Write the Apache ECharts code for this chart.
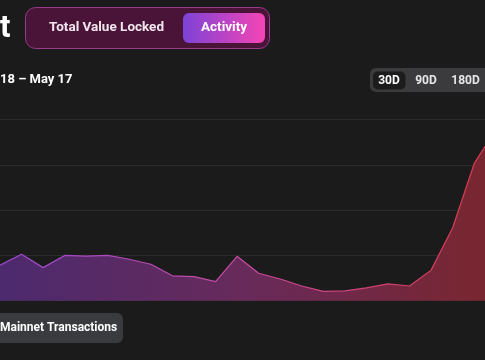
<!DOCTYPE html>
<html>
<head>
<meta charset="utf-8">
<script src="https://cdn.jsdelivr.net/npm/echarts@6/dist/echarts.min.js"></script>
<style>
html,body{margin:0;padding:0;background:#1b1b1b;}
#chart{width:485px;height:360px;}
</style>
</head>
<body>
<div id="chart"></div>
<script>
// Daily mainnet transactions (thousands), visible window of the 30D view
const dayIndex = [0,1,2,3,4,5,6,7,8,9,10,11,12,13,14,15,16,17,18,19,20,21,22,23];
const txValues = [15.7,20.5,14.6,20.0,19.7,20.0,18.3,16.1,11.0,10.6,8.4,19.6,12.1,9.6,6.5,4.1,4.3,5.7,7.4,6.5,13.5,32.2,60.6,75.5];
const yTicks = [0,20,40,60,80];
const periodLabels = ['30D','90D','180D'];
const toggleLabels = ['Total Value Locked','Activity'];
const dateRangeLabel = '18 – May 17';
const titleTail = 't';
const seriesButtonLabel = 'Mainnet Transactions';

const FONT = 'Roboto, "Noto Sans", sans-serif';
const chart = echarts.init(document.getElementById('chart'), null, {renderer:'canvas'});

const seriesData = dayIndex.map((d, i) => [d, txValues[i]]);

const option = {
  backgroundColor: '#1b1b1b',
  animation: false,
  grid: {left: 0, right: 0, top: 119.5, bottom: 59.3},
  xAxis: {
    type: 'value', min: 0, max: 22.5,
    axisLine: {show: false}, axisTick: {show: false}, axisLabel: {show: false}, splitLine: {show: false}
  },
  yAxis: {
    type: 'value', min: yTicks[0], max: yTicks[yTicks.length-1], interval: yTicks[1]-yTicks[0],
    axisLine: {show: false}, axisTick: {show: false}, axisLabel: {show: false},
    splitLine: {show: true, lineStyle: {color: '#2b2b2b', width: 1}}
  },
  series: [{
    type: 'line',
    data: seriesData,
    symbol: 'none',
    clip: true,
    lineStyle: {
      width: 1.2,
      color: new echarts.graphic.LinearGradient(0,0,1,0,[
        {offset:0, color:'#9a4ad0'},
        {offset:0.5, color:'#c84aa0'},
        {offset:1, color:'#d83a48'}
      ])
    },
    areaStyle: {
      opacity: 1,
      color: new echarts.graphic.LinearGradient(0,0,1,0,[
        {offset:0, color:'#4c2a6e'},
        {offset:0.5, color:'#682a5a'},
        {offset:1, color:'#7a262e'}
      ])
    }
  }],
  graphic: [
    {type:'text', left: 0, top: 14, style:{text: titleTail, fill:'#ffffff', font:'bold 31px ' + FONT}},
    {type:'rect', shape:{x:25.5, y:7.5, width:244, height:41, r:10},
      style:{fill:'#4a1438', stroke:'#9a3a8c', lineWidth:1}},
    {type:'text', x:106.5, y:28, style:{text: toggleLabels[0], fill:'#f2e6ee', font:'bold 13.5px ' + FONT, textAlign:'center', textVerticalAlign:'middle'}},
    {type:'rect', shape:{x:183, y:13, width:82, height:30, r:6},
      style:{fill: new echarts.graphic.LinearGradient(0,0,1,0,[{offset:0,color:'#7d43d6'},{offset:1,color:'#f545b5'}])}},
    {type:'text', x:224, y:28, style:{text: toggleLabels[1], fill:'#ffffff', font:'bold 13.5px ' + FONT, textAlign:'center', textVerticalAlign:'middle'}},
    {type:'text', x:0, y:80, style:{text: dateRangeLabel, fill:'#ffffff', font:'bold 13px ' + FONT, textAlign:'left', textVerticalAlign:'middle'}},
    {type:'rect', shape:{x:370, y:68, width:130, height:24, r:6}, style:{fill:'#3b3b3e'}},
    {type:'rect', shape:{x:373, y:71.5, width:32.5, height:18, r:5}, style:{fill:'#1c1c1c'}},
    {type:'text', x:389, y:80.5, style:{text: periodLabels[0], fill:'#ffffff', font:'bold 12px ' + FONT, textAlign:'center', textVerticalAlign:'middle'}},
    {type:'text', x:426, y:80.5, style:{text: periodLabels[1], fill:'#e6e6e6', font:'bold 12px ' + FONT, textAlign:'center', textVerticalAlign:'middle'}},
    {type:'text', x:465.5, y:80.5, style:{text: periodLabels[2], fill:'#e6e6e6', font:'bold 12px ' + FONT, textAlign:'center', textVerticalAlign:'middle'}},
    {type:'rect', shape:{x:-10, y:313, width:133, height:30, r:6}, style:{fill:'#3a3b3f'}},
    {type:'text', x:0, y:328, style:{text: seriesButtonLabel, fill:'#ffffff', font:'bold 12px ' + FONT, textAlign:'left', textVerticalAlign:'middle'}}
  ]
};
chart.setOption(option);
</script>
</body>
</html>
